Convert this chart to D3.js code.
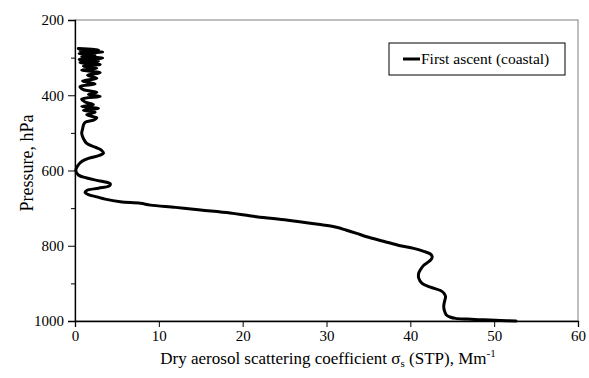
<!DOCTYPE html>
<html>
<head>
<meta charset="utf-8">
<script src="https://cdn.jsdelivr.net/npm/d3@7"></script>
<style>
  html, body { margin: 0; padding: 0; background: #fff; }
  svg { display: block; }
  text { font-family: "Liberation Serif", "Times New Roman", serif; fill: #000; }
</style>
</head>
<body>
<svg id="chart" width="589" height="378"></svg>
<script>
// Vertical profile of dry aerosol scattering during the first (coastal) ascent
const pressure = [
  276, 279, 282, 285, 289, 293, 297, 301, 305, 309, 313, 318, 323, 328, 333,
  340, 347, 355, 362, 370, 377, 385, 392, 398, 403, 410, 418, 425, 430, 435,
  440, 445, 452, 460, 466, 472, 480, 490, 501, 515, 528, 538, 545, 554, 560,
  568, 576, 588, 600, 612, 620, 628, 635, 641, 647, 653, 658, 664, 670, 676,
  683, 687, 692, 698, 705, 713, 721, 731, 743, 749, 758, 767, 776, 788, 800,
  807, 815, 822, 829, 836, 842, 852, 864, 873, 886, 900, 910, 919, 926, 935,
  946, 957, 966, 975, 984, 990, 993, 995, 997, 998.5, 1000
];
const scattering = [
  0.4, 2.8, 0.6, 3.3, 0.5, 2.4, 0.8, 3.3, 0.5, 2.8, 0.6, 3.0, 1.0, 2.6, 0.8,
  3.0, 1.5, 2.6, 0.9, 2.4, 0.6, 1.0, 2.6, 1.6, 3.0, 0.8, 1.2, 2.2, 0.8, 2.8,
  1.0, 2.4, 1.4, 2.6, 2.2, 1.2, 1.0, 0.9, 0.8, 1.0, 1.4, 2.4, 3.1, 3.4, 2.9,
  1.6, 0.8, 0.3, 0.1, 0.4, 1.4, 3.0, 4.2, 4.1, 2.8, 1.4, 1.2, 1.6, 2.6, 3.6,
  5.4, 7.8, 9.0, 12.0, 15.0, 18.5, 21.0, 25.0, 29.0, 30.8, 32.3, 33.6, 34.8, 36.8, 38.8,
  40.4, 41.6, 42.4, 42.6, 42.5, 42.2, 41.6, 41.2, 41.0, 41.0, 41.4, 42.4, 43.6, 44.0, 44.2,
  44.1, 44.0, 44.0, 44.1, 44.3, 44.8, 45.4, 46.8, 48.8, 50.8, 52.6
];

const xTicks = [0, 10, 20, 30, 40, 50, 60];
const yTicks = [200, 400, 600, 800, 1000];
const yMinorTicks = [300, 500, 700, 900];
const legendLabel = "First ascent (coastal)";

const svg = d3.select("#chart");
const plot = { left: 75, right: 578, top: 20, bottom: 321 };

const x = d3.scaleLinear().domain([0, 60]).range([plot.left, plot.right]);
const y = d3.scaleLinear().domain([200, 1000]).range([plot.top, plot.bottom]);

// plot-area frame
svg.append("rect")
  .attr("x", plot.left).attr("y", plot.top)
  .attr("width", plot.right - plot.left).attr("height", plot.bottom - plot.top)
  .attr("fill", "none").attr("stroke", "#7f7f7f").attr("stroke-width", 1);

// x axis
const xAxis = svg.append("g")
  .attr("transform", `translate(0,${plot.bottom})`)
  .call(d3.axisBottom(x).tickValues(xTicks).tickSize(6).tickPadding(3).tickFormat(d3.format("d")));
xAxis.select(".domain").attr("stroke", "#000").attr("stroke-width", 1.3);
xAxis.selectAll(".tick line").attr("stroke", "#000");
xAxis.selectAll(".tick text")
  .style("font-family", '"Liberation Serif", serif').style("font-size", "15px");

// y axis: minor ticks then labelled ticks
svg.append("g")
  .attr("transform", `translate(${plot.left},0)`)
  .call(d3.axisLeft(y).tickValues(yMinorTicks).tickSize(4).tickFormat(""))
  .call(g => g.select(".domain").remove())
  .selectAll(".tick line").attr("stroke", "#000");

const yAxis = svg.append("g")
  .attr("transform", `translate(${plot.left},0)`)
  .call(d3.axisLeft(y).tickValues(yTicks).tickSize(7).tickPadding(4).tickFormat(d3.format("d")));
yAxis.select(".domain").attr("stroke", "#000").attr("stroke-width", 1.3);
yAxis.selectAll(".tick line").attr("stroke", "#000");
yAxis.selectAll(".tick text")
  .style("font-family", '"Liberation Serif", serif').style("font-size", "15px");

// profile curve
const line = d3.line()
  .x((d, i) => x(scattering[i]))
  .y(d => y(d))
  .curve(d3.curveCatmullRom.alpha(0.5));

svg.append("path")
  .datum(pressure)
  .attr("d", line)
  .attr("fill", "none")
  .attr("stroke", "#000")
  .attr("stroke-width", 3)
  .attr("stroke-linejoin", "round")
  .attr("stroke-linecap", "round");

// axis titles
const xTitle = svg.append("text")
  .attr("x", 328)
  .attr("y", 364)
  .attr("text-anchor", "middle")
  .style("font-size", "17px");
xTitle.append("tspan").text("Dry aerosol scattering coefficient \u03C3");
xTitle.append("tspan").attr("dy", 3).style("font-size", "11px").text("s");
xTitle.append("tspan").attr("dy", -3).text(" (STP), Mm");
xTitle.append("tspan").attr("dy", -7).style("font-size", "11px").text("-1");

svg.append("text")
  .attr("transform", "translate(33,163) rotate(-90)")
  .attr("text-anchor", "middle")
  .style("font-size", "18px")
  .text("Pressure, hPa");

// legend
const legend = svg.append("g").attr("transform", "translate(389,43)");
legend.append("rect")
  .attr("width", 176).attr("height", 32)
  .attr("fill", "#fff").attr("stroke", "#000").attr("stroke-width", 1);
legend.append("line")
  .attr("x1", 14).attr("x2", 31).attr("y1", 16).attr("y2", 16)
  .attr("stroke", "#000").attr("stroke-width", 3);
legend.append("text")
  .attr("x", 32).attr("y", 21)
  .style("font-size", "15.5px")
  .text(legendLabel);
</script>
</body>
</html>
